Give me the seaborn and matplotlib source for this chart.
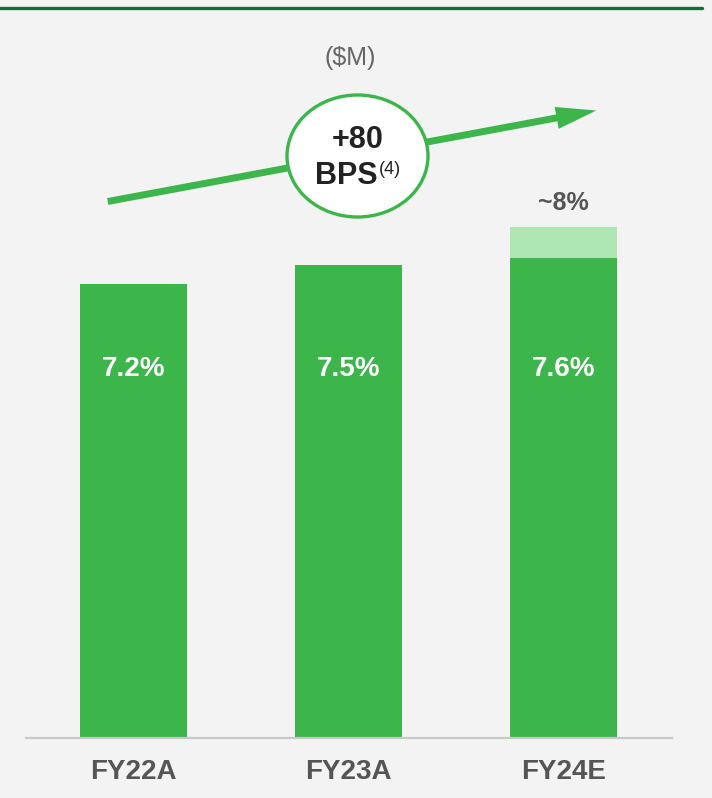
"""EBITDA margin bars FY22A-FY24E with +80 bps callout."""

import matplotlib
matplotlib.use("Agg")
import matplotlib.pyplot as plt
import pandas as pd
import seaborn as sns
from matplotlib.patches import Ellipse, FancyArrowPatch
from matplotlib.lines import Line2D

years = ["FY22A", "FY23A", "FY24E"]
margin = [7.2, 7.5, 7.6]
upside = [0.0, 0.0, 0.5]
margin_labels = ["7.2%", "7.5%", "7.6%"]
upside_label = "~8%"
unit_label = "($M)"
callout_top = "+80"
callout_bottom = "BPS"
callout_note = "(4)"

GREEN = "#3cb54a"
LIGHT = "#aee6b4"
DARK_LINE = "#1b6a3a"
BG = "#f3f3f3"
GREY_TXT = "#555555"

sns.set_theme(style="white")
plt.rcParams["font.family"] = ["Liberation Sans", "DejaVu Sans"]

W, H = 712, 798
fig = plt.figure(figsize=(W / 100, H / 100), dpi=100, facecolor=BG)


def fx(px):
    return px / W


def fy(py):
    return 1 - py / H


# axes: baseline at y=738px, 63.1 px per percentage point
ax = fig.add_axes([fx(26), fy(738), fx(672) - fx(26), fy(100) - fy(738)])
ax.set_facecolor(BG)

df = pd.DataFrame({"year": years, "margin": margin, "upside": upside})
df["total"] = df["margin"] + df["upside"]

sns.barplot(data=df, x="year", y="total", color=LIGHT, width=0.5, saturation=1,
            linewidth=0, ax=ax)
sns.barplot(data=df, x="year", y="margin", color=GREEN, width=0.5, saturation=1,
            linewidth=0, ax=ax)

ax.set_xlim(-0.5, 2.505)
ax.set_ylim(0, 638 / 63.1)
ax.set_xlabel("")
ax.set_ylabel("")
ax.set_yticks([])
for s in ["top", "left", "right"]:
    ax.spines[s].set_visible(False)
ax.spines["bottom"].set_color("#c8c8c8")
ax.spines["bottom"].set_linewidth(1.6)
ax.tick_params(axis="x", length=0, pad=15, labelsize=20, labelcolor=GREY_TXT)
for lbl in ax.get_xticklabels():
    lbl.set_fontweight("bold")

for i, txt in enumerate(margin_labels):
    ax.text(i, 5.85, txt, ha="center", va="center", color="white",
            fontsize=20, fontweight="bold")

top_i = len(years) - 1
ax.text(top_i, df["total"].iloc[top_i] + 0.38, upside_label, ha="center", va="center",
        color=GREY_TXT, fontsize=18, fontweight="bold")

# decorations
fig.add_artist(Line2D([0, fx(702)], [fy(8), fy(8)], color=DARK_LINE, lw=2.4,
                      transform=fig.transFigure))
fig.text(fx(350), fy(58), unit_label, ha="center", va="center", color="#666666", fontsize=18)

arrow = FancyArrowPatch((fx(105), fy(202)), (fx(599), fy(110)),
                        transform=fig.transFigure,
                        arrowstyle="simple,head_length=29,head_width=16,tail_width=5",
                        mutation_scale=1, color=GREEN, lw=0)
fig.add_artist(arrow)
fig.add_artist(Ellipse((fx(357.5), fy(156)), 141 / W, 122 / H, transform=fig.transFigure,
                       facecolor="white", edgecolor=GREEN, lw=2.4))
fig.text(fx(358), fy(140), callout_top, ha="center", va="center", color="#222222",
         fontsize=22, fontweight="bold")
fig.text(fx(378), fy(176), callout_bottom, ha="right", va="center", color="#222222",
         fontsize=22, fontweight="bold")
fig.text(fx(379), fy(170), callout_note, ha="left", va="center", color="#222222", fontsize=13)

fig.savefig("out.png", dpi=100, facecolor=BG)
